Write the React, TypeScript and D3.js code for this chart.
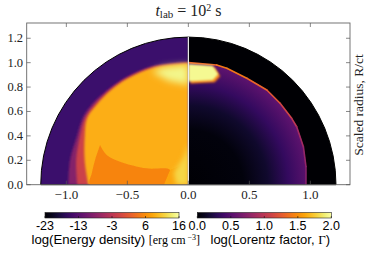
import React from "react";
import * as d3 from "d3";

const WIDTH = 374, HEIGHT = 253;
const xTicks = [-1, -0.5, 0, 0.5, 1];
const yTicks = [0, 0.2, 0.4, 0.6, 0.8, 1.0, 1.2];
const outerRadius = 1.21;

// Shock / region outlines as [x, y] in units of R/ct
const leftShock: [number, number][] = [[0, 1.005], [-0.287, 0.972], [-0.505, 0.885], [-0.642, 0.795], [-0.779, 0.672], [-0.86, 0.56], [-0.915, 0.393], [-0.97, 0.2], [-0.984, 0]];
const leftMid: [number, number][] = [[0, 1.0], [-0.287, 0.965], [-0.5, 0.875], [-0.635, 0.785], [-0.765, 0.66], [-0.845, 0.55], [-0.89, 0.39], [-0.92, 0.2], [-0.91, 0]];
const leftInner: [number, number][] = [[0, 0.995], [-0.287, 0.958], [-0.5, 0.868], [-0.63, 0.778], [-0.755, 0.652], [-0.83, 0.545], [-0.85, 0.39], [-0.85, 0.2], [-0.82, 0]];
const lowerBand: [number, number][] = [[-0.724, 0.325], [-0.669, 0.243], [-0.56, 0.189], [-0.341, 0.134], [-0.15, 0.12], [-0.2, 0], [-0.806, 0], [-0.79, 0.1], [-0.76, 0.22]];
const coreCone: [number, number][] = [[-0.15, 0.12], [-0.2, 0], [0, 0], [0, 0.2], [-0.08, 0.15]];
const coreGlow: [number, number][] = [[-0.12, 0.1], [-0.1, 0], [0, 0], [0, 0.34], [-0.04, 0.22]];
const capLeft: [number, number][] = [[0, 0.985], [-0.2, 0.965], [-0.3, 0.925], [-0.16, 0.85], [0, 0.82]];
const rightShock: [number, number][] = [[0, 1.0], [0.232, 0.981], [0.315, 0.954], [0.479, 0.872], [0.643, 0.776], [0.752, 0.667], [0.847, 0.544], [0.888, 0.475], [0.943, 0.311], [0.964, 0.148], [0.964, 0]];
const rightEdgeLevel = [0.66, 0.7, 0.7, 0.66, 0.62, 0.56, 0.5, 0.44, 0.4, 0.36];
const capRight: [number, number][] = [[0, 0.99], [0.2, 0.975], [0.245, 0.905], [0.2, 0.855], [0, 0.845]];
const rightGradStops: [number, number][] = [[0, 0.0], [0.45, 0.02], [0.65, 0.08], [0.82, 0.17], [1, 0.27]];

const energyTicks = ["-23", "-13", "-3", "6", "16"];
const lorentzTicks = ["0.0", "0.5", "1.0", "1.5", "2.0"];
const barStops = d3.range(0, 1.001, 0.05);

const x = d3.scaleLinear().domain([-1.325, 1.325]).range([26.7, 350]);
const y = d3.scaleLinear().domain([0, 1.325]).range([184.7, 23]);
const ln = d3.line<[number, number]>().x(d => x(d[0])).y(d => y(d[1]));
const smooth = d3.line<[number, number]>().x(d => x(d[0])).y(d => y(d[1])).curve(d3.curveCatmullRom);
const inf = d3.interpolateInferno;
const serif = "'Liberation Serif', serif";
const sans = "'Liberation Sans', sans-serif";
const rPx = x(outerRadius) - x(0);
const fmt = (v: number) => v.toFixed(1).replace("-", "\u2212");

function closed(left: [number, number][]) {
  return smooth(left)! + `L${x(0)},${y(0)}Z`;
}

function ColorBar({ x0, x1, id, ticks, label }: { x0: number; x1: number; id: string; ticks: string[]; label: React.ReactNode }) {
  const t = d3.scalePoint<string>().domain(ticks).range([x0, x1]);
  return (
    <g>
      <linearGradient id={id}>
        {barStops.map(s => <stop key={s} offset={s} stopColor={inf(s)} />)}
      </linearGradient>
      <rect x={x0} y={212.5} width={x1 - x0} height={5.5} fill={`url(#${id})`} stroke="#222" strokeWidth={0.6} />
      {ticks.map(k => (
        <g key={k}>
          <line x1={t(k)} x2={t(k)} y1={218} y2={216} stroke="#111" strokeWidth={0.6} />
          <text x={t(k)} y={229.5} textAnchor="middle" fontFamily={sans} fontSize={12.5}>{k}</text>
        </g>
      ))}
      {label}
    </g>
  );
}

export default function App() {
  const cx = x(0), cy = y(0);
  const half = (s: number) => `M${cx},${cy}L${cx + s * rPx},${cy}A${rPx},${rPx} 0 0 ${s < 0 ? 1 : 0} ${cx},${cy - rPx}Z`;
  return (
    <svg width={WIDTH} height={HEIGHT} style={{ position: "absolute", left: 0, top: 0, background: "#fff" }}>
      <defs>
        <clipPath id="cl"><rect x={0} y={0} width={cx} height={cy} /></clipPath>
        <clipPath id="cr"><rect x={cx} y={0} width={WIDTH} height={cy} /></clipPath>
        <filter id="b05" x="-20%" y="-20%" width="140%" height="140%"><feGaussianBlur stdDeviation={0.6} /></filter>
        <filter id="b1" x="-20%" y="-20%" width="140%" height="140%"><feGaussianBlur stdDeviation={1.2} /></filter>
        <filter id="b2" x="-20%" y="-20%" width="140%" height="140%"><feGaussianBlur stdDeviation={2.5} /></filter>
        <filter id="b3" x="-40%" y="-40%" width="180%" height="180%"><feGaussianBlur stdDeviation={3.5} /></filter>
        <radialGradient id="rg" gradientUnits="userSpaceOnUse" cx={cx} cy={cy} r={x(1) - cx}>
          {rightGradStops.map(([o, v]) => <stop key={o} offset={o} stopColor={inf(v)} />)}
        </radialGradient>
      </defs>

      {/* Left half: energy density */}
      <path d={half(-1)} fill="#3b0f6c" stroke="#000" strokeWidth={1} />
      <g clipPath="url(#cl)">
        <path d={closed(leftShock)} fill={inf(0.36)} filter="url(#b1)" />
        <path d={closed(leftMid)} fill={inf(0.55)} filter="url(#b1)" />
        <path d={closed(leftInner)} fill={inf(0.82)} filter="url(#b1)" />
        <path d={smooth(lowerBand) + "Z"} fill={inf(0.73)} filter="url(#b05)" />
        <path d={ln(coreCone) + "Z"} fill={inf(0.8)} filter="url(#b05)" />
        <path d={ln(coreGlow) + "Z"} fill={inf(0.9)} filter="url(#b2)" />
        <path d={ln(capLeft) + "Z"} fill={inf(0.97)} filter="url(#b3)" />
      </g>

      {/* Right half: Lorentz factor */}
      <path d={half(1)} fill="#000004" stroke="#000" strokeWidth={1} />
      <g clipPath="url(#cr)">
        <path d={smooth(rightShock) + `L${cx},${cy}Z`} fill="url(#rg)" />
        <g filter="url(#b05)">
          {rightShock.slice(1).map((p, i) => (
            <path key={i} d={ln([rightShock[i], p])!} stroke={inf(rightEdgeLevel[i])} strokeWidth={1.6} fill="none" strokeLinecap="round" />
          ))}
        </g>
        <path d={ln(capRight) + "Z"} fill={inf(0.72)} filter="url(#b1)" transform="translate(2,2)" />
        <path d={ln(capRight) + "Z"} fill={inf(0.98)} filter="url(#b1)" />
      </g>
      <line x1={cx} x2={cx} y1={y(outerRadius)} y2={cy} stroke="#f4f4f4" strokeWidth={1.2} />

      {/* Frame */}
      <rect x={26.7} y={23} width={323.3} height={161.7} fill="none" stroke="#666" strokeWidth={0.9} />
      {xTicks.map(v => (
        <g key={v} stroke="#555" strokeWidth={0.7}>
          <line x1={x(v)} x2={x(v)} y1={23} y2={27} />
          <line x1={x(v)} x2={x(v)} y1={184.7} y2={180.7} />
        </g>
      ))}
      {yTicks.map(v => (
        <g key={v} stroke="#555" strokeWidth={0.7}>
          <line x1={26.7} x2={30.7} y1={y(v)} y2={y(v)} />
          <line x1={350} x2={346} y1={y(v)} y2={y(v)} />
        </g>
      ))}
      {xTicks.map(v => (
        <text key={v} x={x(v)} y={198.5} textAnchor="middle" fontFamily={serif} fontSize={13} fill="#222">{fmt(v)}</text>
      ))}
      {yTicks.map(v => (
        <text key={v} x={23} y={y(v) + 4} textAnchor="end" fontFamily={serif} fontSize={12.5} fill="#222">{fmt(v)}</text>
      ))}

      {/* Title and side label */}
      <text x={188.5} y={16} textAnchor="middle" fontFamily={serif} fontSize={16} fill="#222">
        <tspan fontStyle="italic">t</tspan><tspan fontSize={11} dy={2}>lab</tspan><tspan dy={-2}> = 10</tspan><tspan fontSize={10} dy={-5}>2</tspan><tspan dy={5}> s</tspan>
      </text>
      <text transform="translate(363,105) rotate(-90)" textAnchor="middle" fontFamily={serif} fontSize={13.5} fill="#222">Scaled radius, R/ct</text>

      {/* Colour bars */}
      <ColorBar x0={45} x1={179} id="g1" ticks={energyTicks} label={
        <text x={31.5} y={244} fontFamily={sans} fontSize={13.2}>log(Energy density) <tspan fontFamily={serif} fontSize={12}>[erg cm</tspan><tspan fontFamily={serif} fontSize={8} dy={-4}> −3</tspan><tspan fontFamily={serif} fontSize={12} dy={4}>]</tspan></text>
      } />
      <ColorBar x0={197.3} x1={331.3} id="g2" ticks={lorentzTicks} label={
        <text x={210.5} y={244} fontFamily={sans} fontSize={13}>log(Lorentz factor, <tspan fontFamily={serif}>Γ</tspan>)</text>
      } />
    </svg>
  );
}
